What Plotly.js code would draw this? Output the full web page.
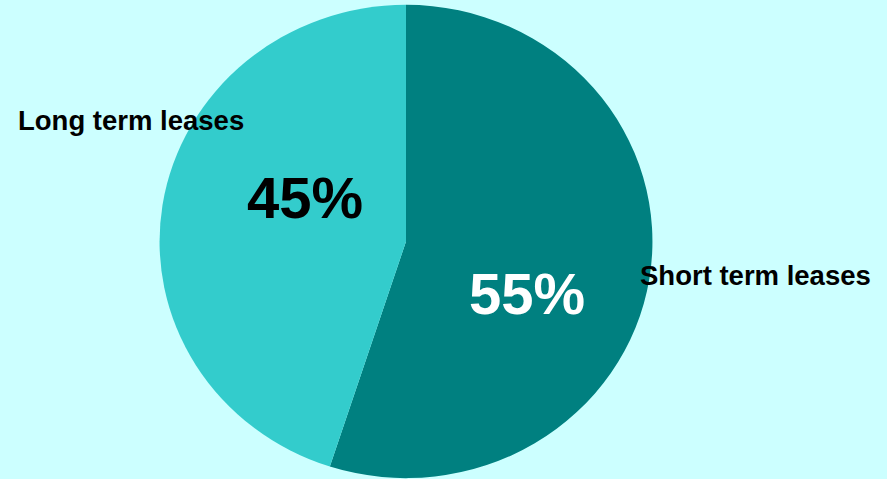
<!DOCTYPE html>
<html>
<head>
<meta charset="utf-8">
<script src="https://cdn.plot.ly/plotly-3.0.1.min.js"></script>
<style>
html,body{margin:0;padding:0;background:#ccffff;}
#chart{width:887px;height:479px;}
</style>
</head>
<body>
<div id="chart"></div>
<script>
var labels = ["Short term leases", "Long term leases"];
var values = [55, 45];
var colors = ["#008080", "#33cccc"];
var pctColors = ["#ffffff", "#000000"];

var W = 887, H = 479;
var total = values.reduce(function(a, b){ return a + b; }, 0);
var percents = values.map(function(v){ return Math.round(v / total * 100) + "%"; });

// label / percent placement (pixel positions in the page)
var labelPos = [[755, 275], [130.5, 121]];
var pctPos = [[527, 293], [305, 197]];

var annotations = [];
for (var i = 0; i < labels.length; i++) {
  annotations.push({
    text: "<b>" + labels[i] + "</b>",
    xref: "paper", yref: "paper",
    x: labelPos[i][0] / W, y: 1 - labelPos[i][1] / H,
    xanchor: "center", yanchor: "middle",
    showarrow: false,
    font: {family: "Liberation Sans, Arial, sans-serif", size: 27.5, color: "#000000"}
  });
  annotations.push({
    text: "<b>" + percents[i] + "</b>",
    xref: "paper", yref: "paper",
    x: pctPos[i][0] / W, y: 1 - pctPos[i][1] / H,
    xanchor: "center", yanchor: "middle",
    showarrow: false,
    font: {family: "Liberation Sans, Arial, sans-serif", size: 58, color: pctColors[i]}
  });
}

var cx = 406 / W;
var data = [{
  type: "pie",
  labels: labels,
  values: values,
  sort: false,
  direction: "clockwise",
  rotation: 0,
  textinfo: "none",
  hoverinfo: "label+percent",
  marker: {colors: colors, line: {width: 0}},
  domain: {x: [cx - 0.3, cx + 0.3], y: [0, 1]},
  showlegend: false
}];

var layout = {
  width: W, height: H,
  margin: {l: 0, r: 0, t: 0, b: 0},
  paper_bgcolor: "#ccffff",
  plot_bgcolor: "#ccffff",
  showlegend: false,
  annotations: annotations
};

Plotly.newPlot("chart", data, layout, {displayModeBar: false, staticPlot: true}).then(function(){
  // the reference pie is drawn slightly wider than tall
  var g = document.querySelector("#chart .pielayer");
  if (g) {
    g.setAttribute("transform", "translate(406,241.5) scale(1.029,0.988) translate(-406,-239.5)");
  }
});
</script>
</body>
</html>
